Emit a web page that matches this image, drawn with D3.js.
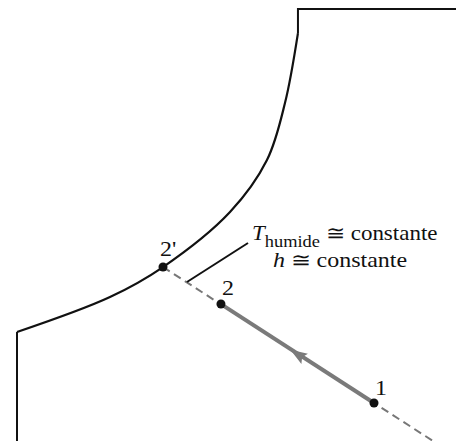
<!DOCTYPE html>
<html>
<head>
<meta charset="utf-8">
<script src="https://cdn.jsdelivr.net/npm/d3@7"></script>
<style>
  body { margin: 0; background: #fff; }
  svg { display: block; }
  text { font-family: "Liberation Serif", "Times New Roman", serif; fill: #111; }
</style>
</head>
<body>
<svg width="456" height="441"></svg>
<script>
// dry-bulb temperature (°C) and humidity ratio (g/kg) along the saturation curve
const satT = [0, 10.59, 16.63, 24.26, 28.47, 30.52, 32.0]
const satW = [7.57, 10.0, 12.08, 15.9, 19.51, 23.47, 28.33]

// chart frame edges
const topEdgeT = [32.0, 32.0, 50]
const topEdgeW = [28.33, 30, 30]
const leftEdgeT = [0, 0]
const leftEdgeW = [7.57, 0]

// states
const stateNames = ["2'", "2", "1"]
const stateT = [16.63, 23.23, 40.66]
const stateW = [12.08, 9.51, 2.64]

// constant wet-bulb line, extended to w = 0
const lineEndT = 47.38
const lineEndW = 0

// arrow position on the process 1 -> 2
const arrowT = 31.9
const arrowW = 6.04

// leader line for the annotation
const leaderT = [19.36, 26.31]
const leaderW = [11.04, 13.75]

let svg = d3.select("svg"),
    width = +svg.attr("width"),
    height = +svg.attr("height")

let x = d3.scaleLinear().domain([0, 50]).range([17, 456])
let y = d3.scaleLinear().domain([0, 30]).range([441, 9])

let line = d3.line()
    .x(function (d) { return x(d[0]) })
    .y(function (d) { return y(d[1]) })

let satLine = d3.line()
    .x(function (d) { return x(d[0]) })
    .y(function (d) { return y(d[1]) })
    .curve(d3.curveCatmullRom.alpha(0.5))

// frame
svg.append("path")
    .attr("d", line(topEdgeT.map(function (t, i) { return [t, topEdgeW[i]] })))
    .attr("fill", "none")
    .attr("stroke", "#111")
    .attr("stroke-width", 2)

svg.append("path")
    .attr("d", line(leftEdgeT.map(function (t, i) { return [t, leftEdgeW[i]] })))
    .attr("fill", "none")
    .attr("stroke", "#111")
    .attr("stroke-width", 2)

// saturation curve
svg.append("path")
    .attr("d", satLine(satT.map(function (t, i) { return [t, satW[i]] })))
    .attr("fill", "none")
    .attr("stroke", "#111")
    .attr("stroke-width", 2.2)

// dashed constant wet-bulb line
svg.append("path")
    .attr("d", line([[stateT[0], stateW[0]], [lineEndT, lineEndW]]))
    .attr("fill", "none")
    .attr("stroke", "#777")
    .attr("stroke-width", 2)
    .attr("stroke-dasharray", "8,5")

// process 1 -> 2
svg.append("path")
    .attr("d", line([[stateT[2], stateW[2]], [stateT[1], stateW[1]]]))
    .attr("fill", "none")
    .attr("stroke", "#7a7a7a")
    .attr("stroke-width", 4)

// arrow head pointing towards 2
let ax = x(arrowT), ay = y(arrowW)
let ang = Math.atan2(y(stateW[1]) - y(stateW[2]), x(stateT[1]) - x(stateT[2])) * 180 / Math.PI
svg.append("path")
    .attr("d", "M8,0 L-9,-6 L-6,0 L-9,6 Z")
    .attr("transform", "translate(" + ax + "," + ay + ") rotate(" + ang + ")")
    .attr("fill", "#7a7a7a")

// leader line
svg.append("path")
    .attr("d", line(leaderT.map(function (t, i) { return [t, leaderW[i]] })))
    .attr("fill", "none")
    .attr("stroke", "#111")
    .attr("stroke-width", 2)

// state points
svg.selectAll("circle.state")
    .data(stateNames)
    .enter()
    .append("circle")
    .attr("class", "state")
    .attr("cx", function (d, i) { return x(stateT[i]) })
    .attr("cy", function (d, i) { return y(stateW[i]) })
    .attr("r", 4.5)
    .attr("fill", "#111")

const labelDx = [-3, 1, 1]
const labelDy = [-11, -9, -8]
svg.selectAll("g.label")
    .data(stateNames)
    .enter()
    .append("g")
    .attr("class", "label")
    .attr("transform", function (d, i) {
        return "translate(" + (x(stateT[i]) + labelDx[i]) + "," + (y(stateW[i]) + labelDy[i]) + ") scale(1.2,1)"
    })
    .append("text")
    .attr("font-size", 20)
    .text(function (d) { return d })

// annotation
let ann1 = svg.append("g")
    .attr("transform", "translate(" + (x(leaderT[1]) + 4) + "," + (y(leaderW[1]) - 3) + ") scale(1.15,1)")
    .append("text")
    .attr("font-size", 20)
ann1.append("tspan").attr("font-style", "italic").text("T")
ann1.append("tspan").attr("font-size", 16).attr("dy", 7).text("humide")
ann1.append("tspan").attr("dy", -7).text(" \u2245 constante")

let ann2 = svg.append("g")
    .attr("transform", "translate(" + (x(leaderT[1]) + 25) + "," + (y(leaderW[1]) + 24) + ") scale(1.2,1)")
    .append("text")
    .attr("font-size", 20)
ann2.append("tspan").attr("font-style", "italic").text("h")
ann2.append("tspan").text(" \u2245 constante")
</script>
</body>
</html>
